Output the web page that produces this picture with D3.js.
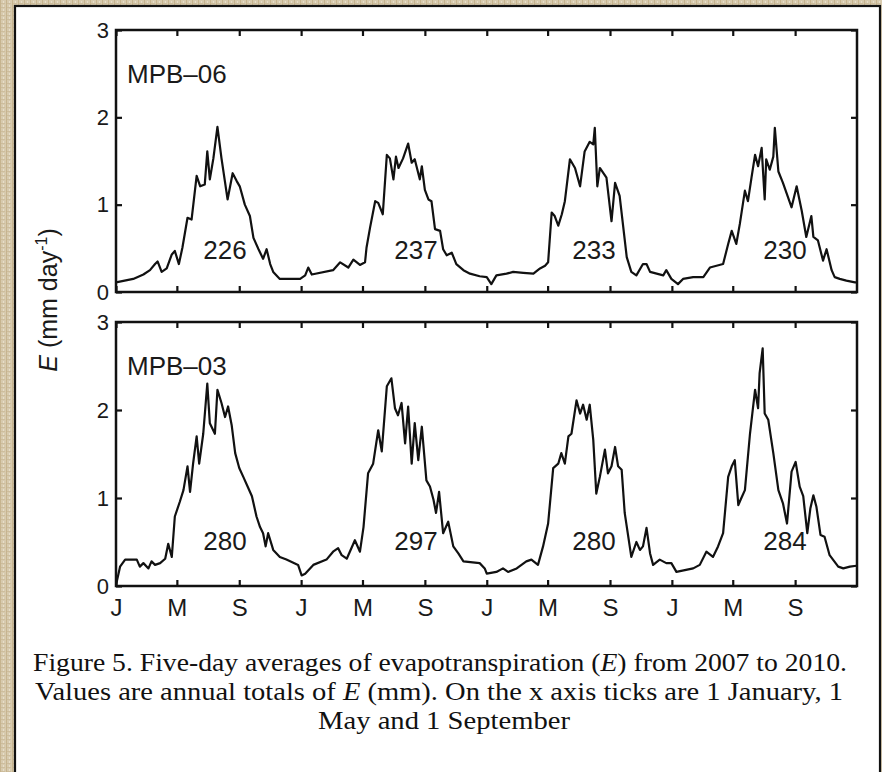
<!DOCTYPE html>
<html>
<head>
<meta charset="utf-8">
<script src="https://cdn.jsdelivr.net/npm/d3@7"></script>
<style>
  html, body { margin: 0; padding: 0; background: #d8cbb0; }
  svg { display: block; }
</style>
</head>
<body>
<script>
// ---------- data ----------
// day offsets counted from 1 January 2007, values in mm/day
const mpb06Days = [0,34,54,67,77,82,90,100,110,116,124,131,141,149,159,166,175,180,185,192,200,208,220,230,238,244,254,264,271,281,290,297,304,310,323,363,373,379,386,428,442,458,468,481,491,494,501,511,517,526,534,540,547,552,557,566,576,583,589,599,603,609,616,622,629,639,645,652,662,671,685,698,717,
  731,740,750,770,783,803,823,836,846,852,859,865,872,879,885,895,905,915,924,934,941,944,949,954,967,977,984,993,1007,1016,1026,1039,1046,1053,1066,1079,1085,1095,1108,1118,1138,1158,1171,1184,1197,1207,1214,1223,1230,1240,1246,1253,1260,1266,1273,1279,1282,1289,1296,1299,1306,1315,1332,1342,1352,1361,1371,1375,1384,1394,1401,1411,1417,1427,1440,1457,1460];
const mpb06Values = [0.11,0.15,0.20,0.25,0.32,0.35,0.23,0.27,0.43,0.47,0.32,0.51,0.85,0.83,1.33,1.21,1.23,1.61,1.29,1.53,1.89,1.53,1.06,1.36,1.27,1.21,1.00,0.87,0.62,0.49,0.38,0.49,0.32,0.23,0.15,0.15,0.19,0.28,0.20,0.25,0.34,0.28,0.37,0.31,0.34,0.51,0.74,1.04,1.02,0.89,1.57,1.53,1.29,1.55,1.42,1.53,1.70,1.48,1.52,1.29,1.44,1.17,1.06,1.04,0.72,0.70,0.49,0.42,0.45,0.32,0.25,0.21,0.18,
  0.17,0.09,0.19,0.21,0.23,0.22,0.21,0.27,0.30,0.34,0.91,0.87,0.76,0.89,1.04,1.52,1.42,1.21,1.61,1.72,1.69,1.88,1.21,1.42,1.31,0.81,1.25,1.10,0.40,0.23,0.19,0.32,0.32,0.23,0.21,0.19,0.25,0.15,0.09,0.15,0.17,0.17,0.28,0.30,0.32,0.55,0.70,0.55,0.78,1.16,1.04,1.31,1.57,1.44,1.65,1.06,1.52,1.40,1.55,1.88,1.38,1.25,0.97,1.21,0.93,0.63,0.87,0.63,0.59,0.36,0.49,0.25,0.17,0.15,0.13,0.11,0.11];

const mpb03Days = [0,8,18,41,47,54,64,70,77,87,97,103,110,116,126,133,141,146,152,159,164,172,180,185,195,200,208,215,221,228,235,243,251,261,268,277,284,290,295,300,310,323,336,359,366,373,389,415,428,438,445,455,471,481,488,497,507,517,524,534,543,550,556,563,570,576,583,589,596,603,612,619,626,631,637,645,655,665,675,685,717,
  727,731,750,763,773,790,809,819,832,842,852,862,872,878,885,892,898,908,915,921,928,934,941,947,954,964,970,977,984,990,997,1003,1016,1026,1033,1039,1046,1053,1059,1072,1085,1095,1105,1138,1151,1164,1177,1187,1197,1207,1214,1220,1227,1233,1240,1250,1260,1266,1269,1275,1279,1286,1296,1306,1315,1323,1332,1340,1348,1355,1363,1369,1375,1381,1389,1397,1407,1424,1434,1447,1460];
const mpb03Values = [0.01,0.22,0.30,0.30,0.22,0.26,0.20,0.28,0.24,0.26,0.31,0.48,0.33,0.79,0.96,1.09,1.36,1.07,1.39,1.70,1.39,1.73,2.30,1.85,1.73,2.23,2.08,1.92,2.04,1.83,1.51,1.34,1.24,1.11,1.02,0.79,0.67,0.60,0.45,0.60,0.41,0.33,0.30,0.24,0.12,0.14,0.24,0.30,0.39,0.43,0.35,0.31,0.52,0.39,0.67,1.28,1.39,1.77,1.53,2.27,2.36,2.02,1.94,2.08,1.62,2.04,1.39,1.85,1.43,1.81,1.20,1.13,0.98,0.83,1.07,0.60,0.73,0.45,0.37,0.28,0.26,
  0.20,0.14,0.16,0.20,0.16,0.20,0.28,0.30,0.24,0.45,0.71,1.34,1.39,1.51,1.39,1.70,1.73,2.11,1.96,2.06,1.89,2.06,1.66,1.05,1.24,1.55,1.28,1.36,1.58,1.36,1.32,0.83,0.33,0.50,0.41,0.45,0.66,0.37,0.24,0.30,0.26,0.26,0.16,0.20,0.24,0.39,0.33,0.45,0.60,1.24,1.36,1.43,0.92,1.00,1.09,1.73,2.23,2.02,2.42,2.70,1.96,1.89,1.51,1.09,0.94,0.71,1.30,1.41,1.13,1.02,0.60,0.88,1.03,0.90,0.58,0.56,0.35,0.22,0.20,0.22,0.23];

const years = [2007, 2008, 2009, 2010];
const annualTotals06 = [226, 237, 233, 230];
const annualTotals03 = [280, 297, 280, 284];
const stationNames = ["MPB\u201306", "MPB\u201303"];
const tickMonths = [0, 4, 8];
const tickMonthLabels = ["J", "M", "S"];
const yTickValues = [0, 1, 2, 3];
const captionLines = [
  [["Figure 5.  Five-day averages of evapotranspiration (", false], ["E", true], [") from 2007 to 2010.", false]],
  [["Values are annual totals of ", false], ["E", true], [" (mm). On the x axis ticks are 1 January, 1", false]],
  [["May and 1 September", false]]
];

// ---------- layout ----------
const W = 882, H = 772;
const svg = d3.select("body").append("svg").attr("width", W).attr("height", H);

const defs = svg.append("defs");
const pat = defs.append("pattern").attr("id", "bgtex").attr("width", 6).attr("height", 4)
  .attr("patternUnits", "userSpaceOnUse");
pat.append("rect").attr("width", 6).attr("height", 4).attr("fill", "#d7caae");
pat.append("rect").attr("x", 0).attr("y", 0).attr("width", 1).attr("height", 4).attr("fill", "#c6b48f");
pat.append("rect").attr("x", 3).attr("y", 1).attr("width", 1).attr("height", 2).attr("fill", "#e7dec9");
pat.append("rect").attr("x", 1).attr("y", 3).attr("width", 4).attr("height", 1).attr("fill", "#cdbd9c");

svg.append("rect").attr("width", W).attr("height", H).attr("fill", "url(#bgtex)");
svg.append("rect").attr("x", 15).attr("y", 6).attr("width", 865).attr("height", 780)
  .attr("fill", "#ffffff").attr("stroke", "#111").attr("stroke-width", 2.2);

const x0 = 116, x1 = 857;
const x = d3.scaleTime()
  .domain([new Date(2007, 0, 1), new Date(2011, 0, 1)])
  .range([x0, x1]);

const tickDates = years.flatMap(y => tickMonths.map(m => new Date(y, m, 1)));
const labelFor = d => tickMonthLabels[tickMonths.indexOf(d.getMonth())];

const panels = [
  { top: 30, bottom: 292, days: mpb06Days, values: mpb06Values, totals: annualTotals06, name: stationNames[0], nameY: 83, totY: 259, xLabels: false },
  { top: 322, bottom: 586, days: mpb03Days, values: mpb03Values, totals: annualTotals03, name: stationNames[1], nameY: 375, totY: 550, xLabels: true }
];

const sans = "'Liberation Sans', Arial, Helvetica, sans-serif";
const totalCenters = [225, 416, 594, 785];

panels.forEach(p => {
  const y = d3.scaleLinear().domain([0, 3]).range([p.bottom, p.top]);
  const g = svg.append("g");

  // data line
  const pts = p.days.map((d, i) => ({ date: new Date(2007, 0, 1 + d), v: p.values[i] }));
  g.append("path").datum(pts)
    .attr("fill", "none").attr("stroke", "#111").attr("stroke-width", 2.2)
    .attr("stroke-linejoin", "round")
    .attr("d", d3.line().x(d => x(d.date)).y(d => y(d.v)));

  // axes with inward ticks
  const axB = g.append("g").attr("transform", `translate(0,${p.bottom})`)
    .call(d3.axisBottom(x).tickValues(tickDates).tickSize(-6).tickSizeOuter(0).tickPadding(13)
      .tickFormat(p.xLabels ? labelFor : () => ""));
  const axT = g.append("g").attr("transform", `translate(0,${p.top})`)
    .call(d3.axisTop(x).tickValues(tickDates).tickSize(-6).tickSizeOuter(0).tickFormat(() => ""));
  const axL = g.append("g").attr("transform", `translate(${x0},0)`)
    .call(d3.axisLeft(y).tickValues(yTickValues).tickSize(-6).tickSizeOuter(0).tickPadding(7)
      .tickFormat(d3.format("d")));
  const axR = g.append("g").attr("transform", `translate(${x1},0)`)
    .call(d3.axisRight(y).tickValues(yTickValues).tickSize(-6).tickSizeOuter(0).tickFormat(() => ""));

  [axB, axT, axL, axR].forEach(a => {
    a.select(".domain").remove();
    a.selectAll(".tick line").attr("stroke", "#111").attr("stroke-width", 2.2);
    a.selectAll("text").attr("fill", "#1a1a1a").style("font-family", sans);
  });
  axB.selectAll("text").style("font-size", "24px");
  axL.selectAll("text").style("font-size", "22px");

  // frame
  g.append("rect").attr("x", x0).attr("y", p.top).attr("width", x1 - x0).attr("height", p.bottom - p.top)
    .attr("fill", "none").attr("stroke", "#111").attr("stroke-width", 2.5);

  // station name
  g.append("text").attr("x", 127).attr("y", p.nameY).text(p.name)
    .style("font-family", sans).style("font-size", "26px").attr("fill", "#1a1a1a");

  // annual totals
  g.selectAll(".tot").data(p.totals).enter().append("text")
    .attr("x", (d, i) => totalCenters[i]).attr("y", p.totY)
    .attr("text-anchor", "middle").text(d => d)
    .style("font-family", sans).style("font-size", "26px").attr("fill", "#1a1a1a");
});

// y-axis label
const yl = svg.append("text").attr("transform", "translate(57,300) rotate(-90)")
  .attr("text-anchor", "middle").style("font-family", sans).style("font-size", "25px").attr("fill", "#1a1a1a");
yl.append("tspan").style("font-style", "italic").text("E");
yl.append("tspan").text(" (mm day");
yl.append("tspan").attr("dy", -10).style("font-size", "16px").text("-1");
yl.append("tspan").attr("dy", 10).text(")");

// caption
const serif = "'Liberation Serif', 'Times New Roman', serif";
const capSpecs = [
  { y: 671, x: 33, anchor: "start", len: 814 },
  { y: 700, x: 35, anchor: "start", len: 808 },
  { y: 729, x: 444, anchor: "middle", len: 252 }
];
captionLines.forEach((parts, i) => {
  const s = capSpecs[i];
  const t = svg.append("text").attr("x", s.x).attr("y", s.y).attr("text-anchor", s.anchor)
    .attr("textLength", s.len).attr("lengthAdjust", "spacingAndGlyphs")
    .style("font-family", serif).style("font-size", "26px").attr("fill", "#111");
  parts.forEach(([txt, it]) => {
    const ts = t.append("tspan").text(txt);
    if (it) ts.style("font-style", "italic");
  });
});
</script>
</body>
</html>
